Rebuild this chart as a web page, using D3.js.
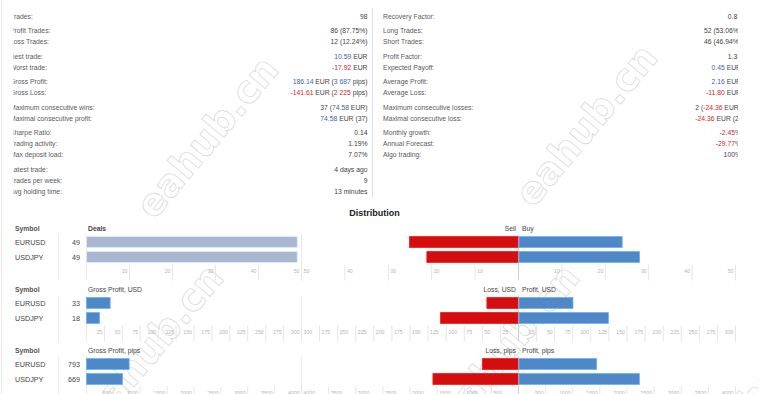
<!DOCTYPE html>
<html>
<head>
<meta charset="utf-8">
<script src="https://cdn.jsdelivr.net/npm/d3@7"></script>
<style>
  body { margin: 0; background: #fff; }
  svg { display: block; font-family: "Liberation Sans", Arial, sans-serif; }
</style>
</head>
<body>
<svg id="chart" width="759" height="394"></svg>
<script>
// stats: [label, value]; [..] marks a positive number, {..} a negative one
const leftStats = [
  [["Trades:", "98"]],
  [["Profit Trades:", "86 (87.75%)"], ["Loss Trades:", "12 (12.24%)"]],
  [["Best trade:", "[10.59] EUR"], ["Worst trade:", "{-17.92} EUR"]],
  [["Gross Profit:", "[186.14] EUR ([3 687] pips)"], ["Gross Loss:", "{-141.61} EUR ({2 225} pips)"]],
  [["Maximum consecutive wins:", "37 ([74.58] EUR)"], ["Maximal consecutive profit:", "[74.58] EUR (37)"]],
  [["Sharpe Ratio:", "0.14"], ["Trading activity:", "1.19%"], ["Max deposit load:", "7.07%"]],
  [["Latest trade:", "4 days ago"], ["Trades per week:", "9"], ["Avg holding time:", "13 minutes"]]
];
const rightStats = [
  [["Recovery Factor:", "0.81"]],
  [["Long Trades:", "52 (53.06%)"], ["Short Trades:", "46 (46.94%)"]],
  [["Profit Factor:", "1.31"], ["Expected Payoff:", "[0.45] EUR"]],
  [["Average Profit:", "[2.16] EUR"], ["Average Loss:", "{-11.80} EUR"]],
  [["Maximum consecutive losses:", "2 ({-24.36} EUR)"], ["Maximal consecutive loss:", "{-24.36} EUR (2)"]],
  [["Monthly growth:", "{-2.45}%"], ["Annual Forecast:", "{-29.77}%"], ["Algo trading:", "100%"]]
];

const symbols = ["EURUSD", "USDJPY"];

const deals = [49, 49];
const sellDeals = [25, 21];
const buyDeals = [24, 28];
const dealTicks = [10, 20, 30, 40, 50];

const netUsd = [33, 18];
const lossUsd = [43, 107];
const profitUsd = [76, 125];
const usdTicks = [25, 50, 75, 100, 125, 150, 175, 200, 225, 250, 275, 300];

const netPips = [793, 669];
const lossPips = [657, 1568];
const profitPips = [1450, 2237];
const pipsTicks = [500, 1000, 1500, 2000, 2500, 3000, 3500, 4000];

const svg = d3.select("#chart");
const BLUE = "#3c64a8", RED = "#d41e1e";

// watermark (drawn first, under everything)
const marks = [[207, 137], [586, 125], [152, 345], [508, 345], [775, 372]];
svg.append("g").selectAll("text").data(marks).enter().append("text")
  .attr("transform", d => `translate(${d[0]},${d[1]}) rotate(-50)`)
  .attr("text-anchor", "middle").attr("dy", "0.35em")
  .attr("font-size", 38).attr("font-weight", "bold").attr("font-family", "DejaVu Sans, sans-serif")
  .attr("fill", "none").attr("stroke", "#d6d6d6").attr("stroke-width", 0.7)
  .text("eahub.cn");

const defs = svg.append("defs");
defs.append("clipPath").attr("id", "clipL").append("rect")
  .attr("x", 13.5).attr("y", 0).attr("width", 360).attr("height", 200);
defs.append("clipPath").attr("id", "clipR").append("rect")
  .attr("x", 376).attr("y", 0).attr("width", 362).attr("height", 200);

function fillValue(sel, str) {
  str.split(/(\[[^\]]*\]|\{[^}]*\})/).filter(s => s.length).forEach(s => {
    const t = sel.append("tspan");
    if (s[0] === "[") t.attr("fill", BLUE).text(s.slice(1, -1));
    else if (s[0] === "{") t.attr("fill", RED).text(s.slice(1, -1));
    else t.text(s);
  });
}

function drawStats(groups, xLabel, xValue, clipId) {
  const g = svg.append("g").attr("clip-path", `url(#${clipId})`)
    .attr("font-size", 6.8);
  let y = 18.5;
  groups.forEach((grp, gi) => {
    if (gi > 0) y += 3.5;
    grp.forEach(row => {
      g.append("text").attr("x", xLabel).attr("y", y).attr("fill", "#5a5a5a").text(row[0]);
      const v = g.append("text").attr("x", xValue).attr("y", y)
        .attr("text-anchor", "end").attr("fill", "#444");
      fillValue(v, row[1]);
      y += 11;
    });
  });
}
drawStats(leftStats, 10, 367.5, "clipL");
drawStats(rightStats, 383, 741, "clipR");

svg.append("line").attr("x1", 372.5).attr("x2", 372.5).attr("y1", 8).attr("y2", 198)
  .attr("stroke", "#e2e2e2");
svg.append("line").attr("x1", 1.5).attr("x2", 1.5).attr("y1", 0).attr("y2", 394)
  .attr("stroke", "#ececec");

svg.append("text").attr("x", 374.5).attr("y", 216).attr("text-anchor", "middle")
  .attr("font-size", 9).attr("font-weight", "bold").attr("fill", "#222")
  .text("Distribution");

const panels = [
  { title: "Deals", negTitle: "Sell", posTitle: "Buy", net: deals, neg: sellDeals, pos: buyDeals,
    ticks: dealTicks, netColor: "#a9b7d0" },
  { title: "Gross Profit, USD", negTitle: "Loss, USD", posTitle: "Profit, USD", net: netUsd,
    neg: lossUsd, pos: profitUsd, ticks: usdTicks, netColor: "#4f88c6" },
  { title: "Gross Profit, pips", negTitle: "Loss, pips", posTitle: "Profit, pips", net: netPips,
    neg: lossPips, pos: profitPips, ticks: pipsTicks, netColor: "#4f88c6" }
];

const X0 = 86, XMID = 301, XC = 518, XR = 735;

function drawPanel(p, top) {
  const g = svg.append("g");
  const max = p.ticks[p.ticks.length - 1];
  const xNet = d3.scaleLinear().domain([0, max]).range([X0, XMID]);
  const xNeg = d3.scaleLinear().domain([0, max]).range([XC, XMID]);
  const xPos = d3.scaleLinear().domain([0, max]).range([XC, XR]);
  const y = d3.scaleBand().domain(symbols).range([top + 4, top + 34])
    .paddingInner(0.28).paddingOuter(0.14);

  // full height grid lines
  [58, X0, XMID].forEach(x => {
    g.append("line").attr("x1", x + 0.5).attr("x2", x + 0.5)
      .attr("y1", top + 4).attr("y2", top + 50).attr("stroke", "#ebebeb");
  });
  g.append("line").attr("x1", XC + 0.5).attr("x2", XC + 0.5)
    .attr("y1", top + 4).attr("y2", top + 50).attr("stroke", "#d0d0d0");

  // headers
  g.append("text").attr("x", 15).attr("y", top).attr("font-size", 6.8)
    .attr("font-weight", "bold").attr("fill", "#555").text("Symbol");
  g.append("text").attr("x", 88).attr("y", top).attr("font-size", 6.8)
    .attr("font-weight", p.title === "Deals" ? "bold" : "normal").attr("fill", "#444").text(p.title);
  g.append("text").attr("x", XC - 2).attr("y", top).attr("font-size", 6.8)
    .attr("text-anchor", "end").attr("fill", "#444").text(p.negTitle);
  g.append("text").attr("x", XC + 4).attr("y", top).attr("font-size", 6.8)
    .attr("fill", "#444").text(p.posTitle);

  const rows = symbols.map((s, i) => ({ s, net: p.net[i], neg: p.neg[i], pos: p.pos[i] }));

  g.selectAll(".sym").data(rows).enter().append("text")
    .attr("x", 15).attr("y", d => y(d.s) + y.bandwidth() / 2 + 2.5)
    .attr("font-size", 7.2).attr("fill", "#444").text(d => d.s);
  g.selectAll(".val").data(rows).enter().append("text")
    .attr("x", 80).attr("y", d => y(d.s) + y.bandwidth() / 2 + 2.5)
    .attr("text-anchor", "end").attr("font-size", 7.2).attr("fill", "#444").text(d => d.net);

  const bar = (data, x0, w, fill) => g.selectAll(null).data(data).enter().append("rect")
    .attr("x", x0).attr("y", d => y(d.s)).attr("width", w).attr("height", y.bandwidth())
    .attr("fill", fill).attr("stroke", d3.color(fill).brighter(0.7)).attr("stroke-width", 0.8);

  bar(rows, X0 + 0.5, d => xNet(d.net) - X0, p.netColor);
  bar(rows, d => xNeg(d.neg), d => XC - xNeg(d.neg), "#d40e0e");
  bar(rows, XC + 1, d => xPos(d.pos) - XC - 1, "#4f88c6");

  // axes
  const axisY = top + 34;
  const styleAxis = (ax, anchor, dx) => {
    ax.select(".domain").remove();
    ax.selectAll(".tick line").attr("stroke", "#e6e6e6");
    ax.selectAll(".tick text").attr("fill", "#b5b5b5").attr("font-size", 5.2)
      .attr("y", 8.5).attr("dy", null).attr("text-anchor", anchor).attr("dx", dx);
  };
  const mk = (scale) => d3.axisBottom(scale).tickValues(p.ticks).tickFormat(d3.format("d"))
    .tickSize(16).tickSizeOuter(0);
  g.append("g").attr("transform", `translate(0,${axisY})`).call(mk(xNet))
    .call(ax => styleAxis(ax, "end", -2));
  g.append("g").attr("transform", `translate(0,${axisY})`).call(mk(xNeg))
    .call(ax => styleAxis(ax, "start", 2));
  g.append("g").attr("transform", `translate(0,${axisY})`).call(mk(xPos))
    .call(ax => styleAxis(ax, "end", -2));
  g.selectAll("g.tick text").attr("font-family", "Liberation Sans, sans-serif");
}

panels.forEach((p, i) => drawPanel(p, 230.5 + i * 61));
</script>
</body>
</html>
